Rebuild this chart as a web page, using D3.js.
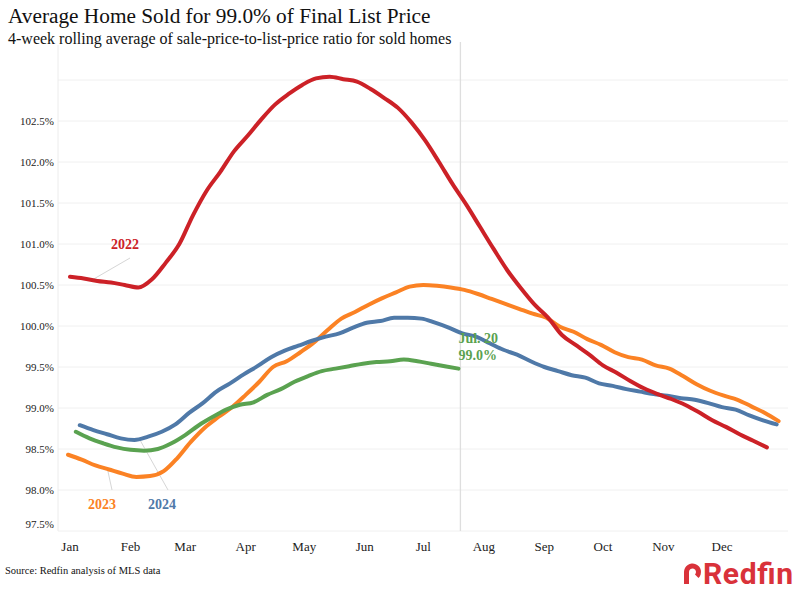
<!DOCTYPE html>
<html lang="en">
<head>
<meta charset="UTF-8">
<title>Average Home Sold for 99.0% of Final List Price</title>
<script src="https://cdn.jsdelivr.net/npm/d3@7/dist/d3.min.js"></script>
<style>
    body { margin: 0; background: #fff; }
    svg text { font-family: "Liberation Serif", "Times New Roman", serif; }
    .tick-y { font-size: 11px; fill: #222; text-anchor: end; }
    .tick-x { font-size: 13px; fill: #222; text-anchor: middle; }
</style>
</head>
<body>
<svg id="chart" width="797" height="590"></svg>
<script>
// month labels and the day of year each one starts on
const months = ['Jan', 'Feb', 'Mar', 'Apr', 'May', 'Jun', 'Jul', 'Aug', 'Sep', 'Oct', 'Nov', 'Dec'];
const monthDays = [0, 31, 59, 90, 120, 151, 181, 212, 243, 273, 304, 334];
const yTicks = [97.5, 98.0, 98.5, 99.0, 99.5, 100.0, 100.5, 101.0, 101.5, 102.0, 102.5];

// weekly 4-week rolling averages, first point's day of year
const start2022 = 0;
const values2022 = [100.60, 100.58, 100.55, 100.53, 100.50, 100.47, 100.57, 100.77, 101.00, 101.35,
    101.65, 101.88, 102.13, 102.32, 102.52, 102.70, 102.83, 102.94, 103.02, 103.04,
    103.01, 102.98, 102.89, 102.78, 102.66, 102.48, 102.26, 102.00, 101.73, 101.48,
    101.21, 100.94, 100.68, 100.46, 100.26, 100.10, 99.89, 99.77, 99.65, 99.52,
    99.43, 99.33, 99.24, 99.17, 99.11, 99.04, 98.95, 98.85, 98.77, 98.68,
    98.60, 98.52];
const start2023 = -1;
const values2023 = [98.43, 98.37, 98.30, 98.25, 98.20, 98.16, 98.17, 98.23, 98.39, 98.59,
    98.76, 98.89, 99.01, 99.16, 99.32, 99.50, 99.57, 99.68, 99.80, 99.95,
    100.09, 100.17, 100.26, 100.34, 100.41, 100.48, 100.50, 100.49, 100.47, 100.44,
    100.39, 100.33, 100.27, 100.21, 100.15, 100.10, 99.99, 99.93, 99.84, 99.77,
    99.68, 99.62, 99.59, 99.52, 99.48, 99.39, 99.29, 99.21, 99.15, 99.10,
    99.02, 98.94, 98.84];
const start2024 = 5;
const values2024 = [98.79, 98.73, 98.68, 98.63, 98.61, 98.65, 98.71, 98.80, 98.94, 99.06,
    99.20, 99.30, 99.41, 99.51, 99.62, 99.70, 99.76, 99.82, 99.87, 99.91,
    99.98, 100.04, 100.06, 100.10, 100.10, 100.09, 100.04, 99.98, 99.91, 99.87,
    99.79, 99.71, 99.65, 99.57, 99.50, 99.45, 99.40, 99.37, 99.30, 99.27,
    99.23, 99.20, 99.17, 99.15, 99.12, 99.10, 99.06, 99.01, 98.98, 98.91,
    98.85, 98.80];
const start2025 = 3;
const values2025 = [98.71, 98.63, 98.57, 98.52, 98.49, 98.48, 98.50, 98.57, 98.67, 98.79,
    98.89, 98.98, 99.04, 99.07, 99.16, 99.23, 99.32, 99.39, 99.45, 99.48,
    99.51, 99.54, 99.56, 99.57, 99.59, 99.57, 99.54, 99.51, 99.48];

const latestDay = 200; // Jul 20

const svg = d3.select('#chart');

let x = d3.scaleLinear().domain([0, 334]).range([70, 722]);
let y = d3.scaleLinear().domain([97.5, 103.0]).range([531, 80]);

// gridlines
svg.append('g')
    .selectAll('line')
    .data(yTicks.concat([103.0]))
    .enter().append('line')
    .attr('x1', 58).attr('x2', 788)
    .attr('y1', d => y(d)).attr('y2', d => y(d))
    .attr('stroke', '#f0f0f0').attr('stroke-width', 1);

svg.append('line')
    .attr('x1', 58).attr('x2', 58).attr('y1', 45).attr('y2', y(97.5))
    .attr('stroke', '#ececec');

svg.append('line')
    .attr('x1', x(latestDay)).attr('x2', x(latestDay))
    .attr('y1', 42).attr('y2', y(97.5))
    .attr('stroke', '#dedede').attr('stroke-width', 1.3);

// y labels (bottom one nudged up like the original)
svg.append('g')
    .selectAll('text')
    .data(yTicks)
    .enter().append('text')
    .attr('class', 'tick-y')
    .attr('x', 54)
    .attr('y', d => d === 97.5 ? y(d) - 7 : y(d))
    .attr('dy', '.35em')
    .text(d => d3.format('.1f')(d) + '%');

// month labels
svg.append('g')
    .selectAll('text')
    .data(months)
    .enter().append('text')
    .attr('class', 'tick-x')
    .attr('x', (d, i) => x(monthDays[i]))
    .attr('y', 551)
    .text(d => d);

// leader lines for the year labels
const leaders = [
    [130, 258, 92, 280],
    [112, 490, 107, 467],
    [168, 490, 140, 440]
];
svg.append('g')
    .selectAll('line')
    .data(leaders)
    .enter().append('line')
    .attr('x1', d => d[0]).attr('y1', d => d[1])
    .attr('x2', d => d[2]).attr('y2', d => d[3])
    .attr('stroke', '#d6d6d6').attr('stroke-width', 1);

let line = d3.line()
    .x(d => x(d.day))
    .y(d => y(d.v))
    .curve(d3.curveMonotoneX);

const series = [
    { start: start2023, values: values2023, color: '#fb8224' },
    { start: start2024, values: values2024, color: '#4f79a8' },
    { start: start2022, values: values2022, color: '#cc2127' },
    { start: start2025, values: values2025, color: '#5aa250' }
];

series.forEach(s => {
    let pts = s.values.map((v, i) => ({ day: s.start + i * 7, v: v }));
    svg.append('path')
        .datum(pts)
        .attr('d', line)
        .attr('fill', 'none')
        .attr('stroke', s.color)
        .attr('stroke-width', 4)
        .attr('stroke-linejoin', 'round')
        .attr('stroke-linecap', 'round');
});

// year labels
const labels = [
    { t: '2022', x: 125, y: 249, c: '#cc2127' },
    { t: '2023', x: 102, y: 509, c: '#fb8224' },
    { t: '2024', x: 162, y: 509, c: '#4f79a8' }
];
svg.append('g')
    .selectAll('text')
    .data(labels)
    .enter().append('text')
    .attr('x', d => d.x).attr('y', d => d.y)
    .attr('text-anchor', 'middle')
    .attr('font-size', 14).attr('font-weight', 'bold')
    .attr('fill', d => d.c)
    .text(d => d.t);

svg.append('text')
    .attr('x', x(latestDay) - 2).attr('y', 343)
    .attr('font-size', 14).attr('font-weight', 'bold')
    .attr('fill', '#5aa250')
    .text('Jul. 20');
svg.append('text')
    .attr('x', x(latestDay) - 2).attr('y', 360)
    .attr('font-size', 14).attr('font-weight', 'bold')
    .attr('fill', '#5aa250')
    .text('99.0%');

// titles
svg.append('text')
    .attr('x', 8).attr('y', 23)
    .attr('font-size', 21.3).attr('fill', '#111')
    .text('Average Home Sold for 99.0% of Final List Price');
svg.append('text')
    .attr('x', 8).attr('y', 44)
    .attr('font-size', 16).attr('fill', '#111')
    .text('4-week rolling average of sale-price-to-list-price ratio for sold homes');

svg.append('text')
    .attr('x', 5).attr('y', 574)
    .attr('font-size', 10.5).attr('fill', '#111')
    .text('Source: Redfin analysis of MLS data');

// Redfin logo
let logo = svg.append('g').attr('transform', 'translate(684,562)');
logo.append('path')
    .attr('d', 'M0,22 L0,10 A8.5,8.5 0 1 1 14.5,16 L11,12.5 A3.5,3.5 0 1 0 5,10 L5,22 Z')
    .attr('fill', '#d9323a');
logo.append('text')
    .attr('x', 19).attr('y', 22)
    .attr('font-weight', 'bold')
    .attr('font-size', 30)
    .attr('fill', '#d9323a')
    .attr('textLength', 90)
    .style('font-family', 'Roboto, "DejaVu Sans", sans-serif')
    .text('Redfin');
</script>
</body>
</html>
